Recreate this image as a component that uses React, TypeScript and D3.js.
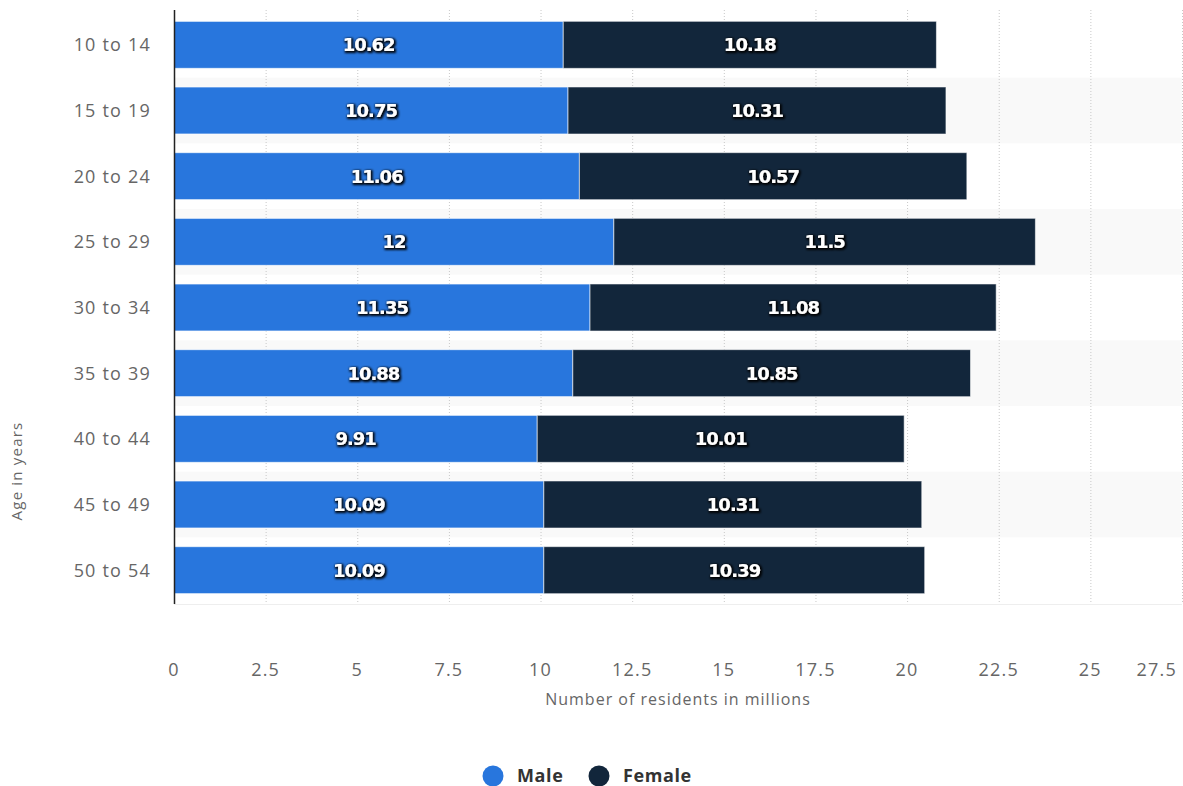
import React from "react";
import * as d3 from "d3";

const categories = ["10 to 14", "15 to 19", "20 to 24", "25 to 29", "30 to 34", "35 to 39", "40 to 44", "45 to 49", "50 to 54"];
const maleValues = [10.62, 10.75, 11.06, 12, 11.35, 10.88, 9.91, 10.09, 10.09];
const femaleValues = [10.18, 10.31, 10.57, 11.5, 11.08, 10.85, 10.01, 10.31, 10.39];
const xTicks = [0, 2.5, 5, 7.5, 10, 12.5, 15, 17.5, 20, 22.5, 25, 27.5];
const seriesNames = ["Male", "Female"];
const seriesColors = ["#2876dd", "#12263b"];

const W = 1183;
const H = 786;
const left = 174;
const right = 1182;
const top = 12;
const bottom = 603;

export default function App() {
  const x = d3.scaleLinear().domain([0, 27.5]).range([left, right]);
  const band = d3.scaleBand<string>().domain(categories).range([top, bottom]).paddingInner(0).paddingOuter(0);
  const y = d3.scaleBand<string>().domain(categories).range([top, bottom]).paddingInner(0.284).paddingOuter(0.142);
  const font = "'Open Sans', sans-serif";
  const labelFont = "'DejaVu Sans', Verdana, sans-serif";

  const valueLabel = (key: string, cx: number, cy: number, v: number) => (
    <text key={key} x={cx} y={cy} dy="0.36em" textAnchor="middle" fill="#fff" fontFamily={labelFont} fontWeight="bold" fontSize={18} letterSpacing={-1} filter="url(#glow)">
      {String(v)}
    </text>
  );

  return (
    <div style={{ position: "absolute", left: 0, top: 0 }}>
      <svg width={W} height={H} style={{ display: "block", background: "#fff" }}>
        <defs>
          <filter id="glow" x="-20%" y="-50%" width="140%" height="200%">
            <feMorphology in="SourceAlpha" operator="dilate" radius="0.8" result="d" />
            <feOffset in="d" dx="0.5" dy="1" result="o" />
            <feGaussianBlur in="o" stdDeviation="1.1" result="b" />
            <feFlood floodColor="#000" floodOpacity="0.95" />
            <feComposite in2="b" operator="in" result="s" />
            <feMerge>
              <feMergeNode in="s" />
              <feMergeNode in="SourceGraphic" />
            </feMerge>
          </filter>
        </defs>
        {categories.map((c, i) =>
          i % 2 === 1 ? (
            <rect key={"b" + c} x={left} y={band(c)!} width={right - left} height={band.bandwidth()} fill="#f9f9f9" />
          ) : null
        )}
        {xTicks.map((t) => (
          <line key={"g" + t} x1={x(t) + 0.5} x2={x(t) + 0.5} y1={top - 2} y2={bottom + 1} stroke="#c8c8c8" strokeWidth={1} strokeDasharray="1 2" />
        ))}
        <line x1={left} x2={right} y1={bottom + 1.5} y2={bottom + 1.5} stroke="#eeeeee" />
        {categories.map((c, i) => {
          const m = maleValues[i];
          const f = femaleValues[i];
          const yy = y(c)!;
          const h = y.bandwidth();
          return (
            <g key={"bar" + c}>
              <rect x={x(0)} y={yy} width={x(m) - x(0)} height={h} fill={seriesColors[0]} stroke="rgba(255,255,255,0.7)" strokeWidth={1} />
              <rect x={x(m)} y={yy} width={x(m + f) - x(m)} height={h} fill={seriesColors[1]} stroke="rgba(255,255,255,0.55)" strokeWidth={1} />
              {valueLabel("m" + c, (x(0) + x(m)) / 2, yy + h / 2, m)}
              {valueLabel("f" + c, (x(m) + x(m + f)) / 2, yy + h / 2, f)}
              <text x={151} y={band(c)! + band.bandwidth() / 2} dy="0.36em" textAnchor="end" fill="#666" fontFamily={font} fontSize={18} letterSpacing={1.2}>
                {c}
              </text>
            </g>
          );
        })}
        <line x1={left + 0.5} x2={left + 0.5} y1={10} y2={bottom + 1} stroke="#222" strokeWidth={1.5} />
        {xTicks.map((t, i) => (
          <text key={"t" + t} x={i === xTicks.length - 1 ? right - 5 : x(t)} y={676} textAnchor={i === xTicks.length - 1 ? "end" : "middle"} fill="#666" fontFamily={font} fontSize={18} letterSpacing={1.2}>
            {String(t)}
          </text>
        ))}
        <text x={(left + right) / 2} y={705} textAnchor="middle" fill="#666" fontFamily={font} fontSize={16} letterSpacing={1}>
          Number of residents in millions
        </text>
        <text transform={`translate(22,471) rotate(-90)`} textAnchor="middle" fill="#666" fontFamily={font} fontSize={15} letterSpacing={1.2}>
          Age in years
        </text>
        {seriesNames.map((s, i) => {
          const cx = i === 0 ? 493 : 599;
          return (
            <g key={"l" + s}>
              <circle cx={cx} cy={776} r={10.5} fill={seriesColors[i]} />
              <text x={cx + 24} y={776} dy="0.36em" fill="#333" fontFamily={font} fontWeight="bold" fontSize={18} letterSpacing={0.6}>
                {s}
              </text>
            </g>
          );
        })}
      </svg>
    </div>
  );
}
